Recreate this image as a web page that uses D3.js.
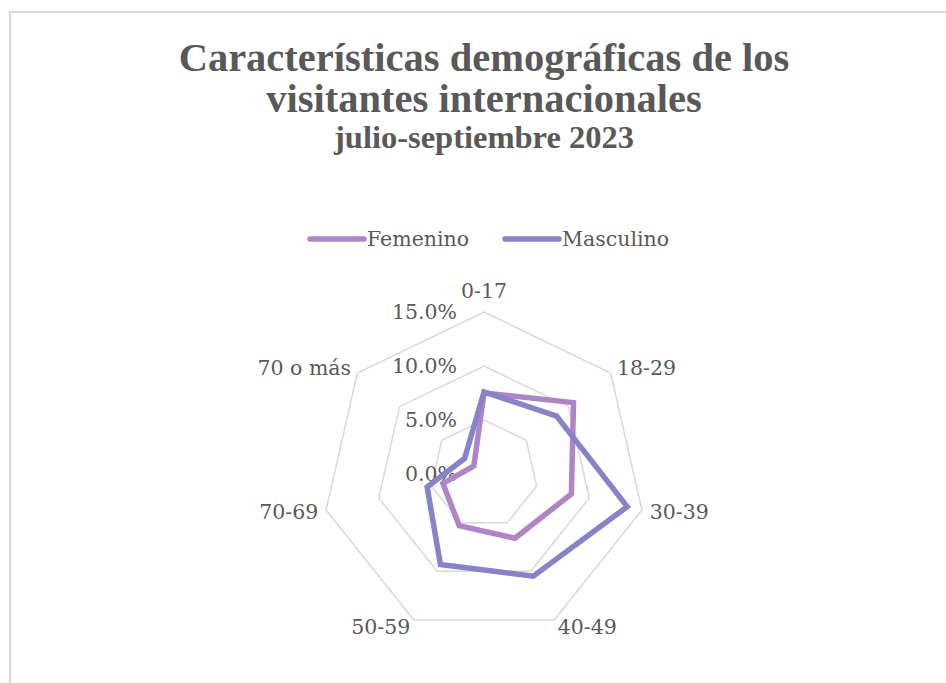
<!DOCTYPE html>
<html>
<head>
<meta charset="utf-8">
<script src="https://cdn.jsdelivr.net/npm/d3@7"></script>
<style>
  body { margin: 0; background: #fff; }
  svg text { fill: #595959; }
</style>
</head>
<body>
<svg id="chart"></svg>
<script>
const categories = ['0-17', '18-29', '30-39', '40-49', '50-59', '70-69', '70 o más'];
const femenino = [0.075, 0.106, 0.083, 0.066, 0.053, 0.039, 0.012];
const masculino = [0.076, 0.086, 0.136, 0.105, 0.093, 0.054, 0.023];
const ticks = [0, 0.05, 0.10, 0.15];
const series = [
  { name: 'Femenino', values: femenino, color: '#B085C6' },
  { name: 'Masculino', values: masculino, color: '#8683C9' }
];

const width = 946, height = 683;
const cx = 484, cy = 474, radius = 162;

const svg = d3.select('#chart')
  .attr('width', width)
  .attr('height', height);

// chart area border (runs off the right and bottom)
svg.append('rect')
  .attr('x', 10).attr('y', 12)
  .attr('width', 960).attr('height', 700)
  .attr('fill', '#fff')
  .attr('stroke', '#D9D9D9')
  .attr('stroke-width', 2);

// titles
const titleFont = '"Liberation Serif", serif';
svg.append('text')
  .attr('x', 484).attr('y', 71)
  .attr('text-anchor', 'middle')
  .style('font', `bold 40.5px ${titleFont}`)
  .text('Características demográficas de los');
svg.append('text')
  .attr('x', 484).attr('y', 112)
  .attr('text-anchor', 'middle')
  .style('font', `bold 40.5px ${titleFont}`)
  .text('visitantes internacionales');
svg.append('text')
  .attr('x', 484).attr('y', 148)
  .attr('text-anchor', 'middle')
  .style('font', `bold 32.5px ${titleFont}`)
  .text('julio-septiembre 2023');

const labelFont = '20.5px "DejaVu Serif", serif';

// legend
const legendX = [310, 505];
const legend = svg.append('g').attr('class', 'legend');
series.forEach((s, i) => {
  const g = legend.append('g').attr('transform', `translate(${legendX[i]}, 239)`);
  g.append('line')
    .attr('x1', 0).attr('x2', 54)
    .attr('stroke', s.color)
    .attr('stroke-width', 5.5)
    .attr('stroke-linecap', 'round');
  g.append('text')
    .attr('x', 57).attr('dy', '0.35em')
    .style('font', labelFont)
    .text(s.name);
});

const r = d3.scaleLinear().domain([0, 0.15]).range([0, radius]);
const angle = d3.scalePoint()
  .domain(categories)
  .range([0, 2 * Math.PI * (categories.length - 1) / categories.length]);

const radar = d3.lineRadial()
  .angle(d => angle(d.cat))
  .radius(d => r(d.value))
  .curve(d3.curveLinearClosed);

const plot = svg.append('g').attr('transform', `translate(${cx}, ${cy})`);

// grid rings
plot.selectAll('.ring')
  .data(ticks.filter(t => t > 0))
  .join('path')
  .attr('class', 'ring')
  .attr('d', t => radar(categories.map(c => ({ cat: c, value: t }))))
  .attr('fill', 'none')
  .attr('stroke', '#D9D9D9')
  .attr('stroke-width', 1.5);

// value labels
plot.selectAll('.tick-label')
  .data(ticks)
  .join('text')
  .attr('class', 'tick-label')
  .attr('x', -27)
  .attr('y', t => -r(t))
  .attr('dy', '0.35em')
  .attr('text-anchor', 'end')
  .style('font', labelFont)
  .text(d3.format('.1%'));

// category labels
plot.selectAll('.cat-label')
  .data(categories)
  .join('text')
  .attr('class', 'cat-label')
  .each(function (c) {
    const a = angle(c);
    const s = Math.sin(a), k = Math.cos(a);
    const rr = radius + 8;
    d3.select(this)
      .attr('x', rr * s)
      .attr('y', -rr * k)
      .attr('text-anchor', Math.abs(s) < 0.01 ? 'middle' : (s > 0 ? 'start' : 'end'))
      .attr('dy', k > 0.99 ? '-0.3em' : '0.35em');
  })
  .style('font', labelFont)
  .text(c => c);

// series
plot.selectAll('.series')
  .data(series)
  .join('path')
  .attr('class', 'series')
  .attr('d', s => radar(s.values.map((v, i) => ({ cat: categories[i], value: v }))))
  .attr('fill', 'none')
  .attr('stroke', s => s.color)
  .attr('stroke-width', 5.5)
  .attr('stroke-linejoin', 'miter');
</script>
</body>
</html>
